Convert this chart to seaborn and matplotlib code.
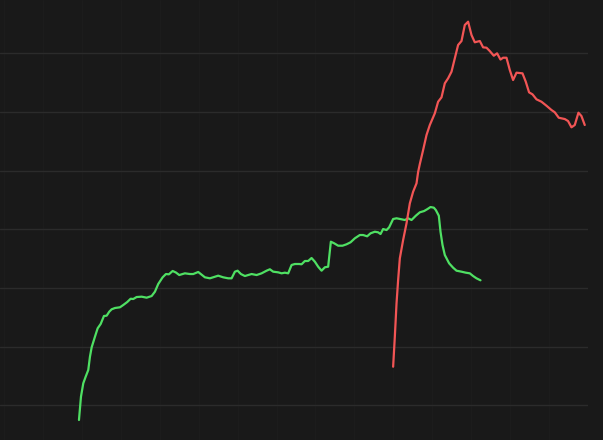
import numpy as np
import pandas as pd
import matplotlib
matplotlib.use("Agg")
import matplotlib.pyplot as plt
import seaborn as sns

# ---- data ----
green_x = [75, 77, 79.3, 81.7, 84.3, 86, 87.7, 91, 93.7, 96.7, 100, 102.7, 105.3, 107.7, 111, 116,
           119.3, 123.3, 126.7, 129.3, 132.7, 137.7, 142.7, 147.7, 151, 154.3, 158.7, 162, 165, 168.7,
           172, 175.3, 181, 186, 189.3, 194.3, 197.7, 201, 206, 211, 214.3, 219.3, 224.3, 227.7, 231,
           233.7, 237, 241, 244.3, 247.7, 252.7, 257.7, 262.7, 266, 269.3, 274.3, 277.7, 281, 284.3,
           287.7, 291, 295.3, 297.7, 301, 304.3, 307.7, 311, 314.3, 317.7, 321, 324.3, 327, 330.3,
           334.3, 338.7, 342.7, 346.7, 351, 356, 359.3, 363.3, 366.7, 371, 374.3, 376.7, 379.3, 382.7,
           385.3, 389.3, 392.7, 397.7, 401, 404.3, 407.7, 412, 416, 420.3, 423.7, 426.7, 430, 432, 435,
           436.7, 438.7, 441, 445.3, 449.3, 452.7, 457.7, 462, 466, 469.3, 472.7, 476.7]
green_y = [7.50, 11.47, 13.75, 14.88, 16.02, 18.29, 19.89, 21.70, 23.13, 23.86, 25.23, 25.28, 25.96,
           26.37, 26.59, 26.71, 27.10, 27.61, 28.17, 28.12, 28.46, 28.52, 28.35, 28.63, 29.37, 30.68,
           31.82, 32.38, 32.33, 32.90, 32.64, 32.21, 32.50, 32.38, 32.38, 32.73, 32.27, 31.82, 31.65,
           31.92, 32.10, 31.82, 31.65, 31.65, 32.78, 32.95, 32.38, 32.04, 32.21, 32.38, 32.21, 32.50,
           32.95, 33.19, 32.78, 32.67, 32.50, 32.61, 32.50, 33.92, 34.09, 34.09, 34.04, 34.60, 34.60,
           35.11, 34.48, 33.63, 32.95, 33.53, 33.63, 37.89, 37.62, 37.21, 37.21, 37.45, 37.79, 38.47,
           39.03, 39.03, 38.81, 39.32, 39.59, 39.49, 39.20, 40.05, 39.88, 40.34, 41.76, 41.88, 41.71,
           41.59, 41.88, 41.59, 42.32, 42.90, 43.12, 43.46, 43.80, 43.69, 43.29, 42.32, 39.59, 37.33,
           35.62, 34.21, 33.46, 32.95, 32.78, 32.61, 32.50, 32.04, 31.65, 31.31]

red_x = [389.3, 391, 392.7, 394.3, 396, 399.3, 402.7, 406, 409.3, 412.7, 414.3, 416, 419.3, 422.7,
         426, 431, 434.3, 437.7, 441, 444.3, 447.7, 451, 454.3, 457.7, 461, 464.3, 467.7, 471, 476,
         479.3, 482.7, 486, 490, 493.3, 496.7, 499.3, 502.7, 506, 509.3, 512.7, 518.7, 522, 525.3,
         528.7, 532.7, 537.7, 542.7, 547.7, 551, 555, 561, 564.3, 567.7, 571, 574.7, 577.7, 581]
red_y = [16.58, 21.70, 27.39, 31.36, 35.06, 38.18, 41.03, 44.43, 46.41, 47.84, 49.77, 51.13, 53.52,
         56.08, 57.78, 59.77, 61.75, 62.50, 64.89, 65.74, 66.87, 69.15, 71.42, 72.10, 74.83, 75.39,
         73.12, 71.88, 72.10, 71.02, 70.96, 70.39, 69.59, 70.00, 68.94, 69.25, 69.25, 67.16, 65.45,
         66.70, 66.59, 65.16, 63.35, 63.01, 62.16, 61.75, 61.07, 60.34, 59.95, 59.02, 58.80, 58.46,
         57.39, 57.78, 59.88, 59.31, 57.78]

green_df = pd.DataFrame({"x": green_x, "y": green_y})
red_df = pd.DataFrame({"x": red_x, "y": red_y})

BG = "#191919"
sns.set_style("dark", {"axes.facecolor": BG, "figure.facecolor": BG})

fig = plt.figure(figsize=(6.03, 4.40), dpi=100, facecolor=BG)
ax = fig.add_axes([0, 0, 588 / 603, 1])
ax.set_facecolor(BG)

sns.lineplot(data=green_df, x="x", y="y", ax=ax, color="#4fe063", linewidth=1.6, sort=False)
sns.lineplot(data=red_df, x="x", y="y", ax=ax, color="#f25555", linewidth=1.6, sort=False)

ax.set_xlim(-4, 584)
ax.set_ylim(4.09, 79.09)
ax.set_xticks(np.arange(0, 585, 38.95))
ax.set_yticks(np.arange(10, 71, 10))
ax.xaxis.grid(True, color="#1c1c1c", linewidth=1)
ax.yaxis.grid(True, color="#2b2b2b", linewidth=1)
ax.set_axisbelow(True)
ax.tick_params(length=0, labelbottom=False, labelleft=False)
ax.set_xlabel("")
ax.set_ylabel("")
for s in ax.spines.values():
    s.set_visible(False)

fig.savefig("out.png", dpi=100, facecolor=BG)
